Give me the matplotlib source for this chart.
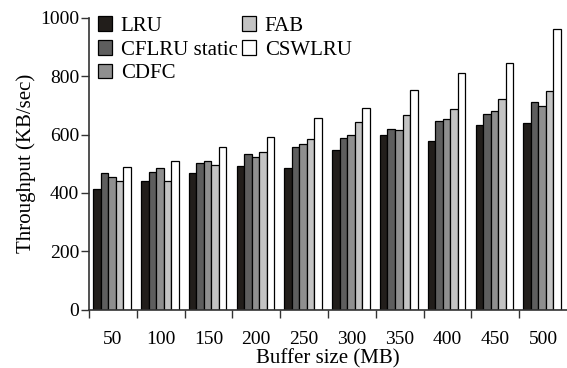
import matplotlib.pyplot as plt
import numpy as np

plt.rcParams['font.family'] = ['Liberation Serif', 'DejaVu Serif']

buffer_sizes = ['50', '100', '150', '200', '250', '300', '350', '400', '450', '500']
series_names = ['LRU', 'CFLRU static', 'CDFC', 'FAB', 'CSWLRU']

lru = [414, 442, 469, 491, 487, 546, 600, 579, 634, 641]
cflru_static = [467, 472, 503, 532, 559, 588, 620, 647, 672, 713]
cdfc = [453, 486, 511, 522, 569, 600, 615, 652, 682, 698]
fab = [440, 442, 497, 540, 584, 644, 667, 689, 722, 750]
cswlru = [489, 510, 556, 593, 658, 692, 753, 812, 844, 960]

colors = ['#221e1b', '#5e5e5e', '#8f8f8f', '#c3c3c3', '#ffffff']


def main():
    fig = plt.figure(figsize=(5.67, 3.68), dpi=100)
    ax = fig.add_axes([0.157, 0.158, 0.843, 0.794])

    data = [lru, cflru_static, cdfc, fab, cswlru]
    x = np.arange(len(buffer_sizes))
    width = 0.157
    for i, (vals, name) in enumerate(zip(data, series_names)):
        ax.bar(x + (i - 2) * width - 0.02, vals, width, color=colors[i],
               edgecolor='black', linewidth=0.9, label=name)

    ax.set_xlim(-0.5, len(buffer_sizes) - 0.5)
    ax.set_ylim(0, 1000)
    ax.set_yticks(np.arange(0, 1001, 200))
    ax.set_xticks(np.arange(-0.5, len(buffer_sizes) - 0.5, 1))
    ax.set_xticklabels([])
    ax.set_xticks(x, minor=True)
    ax.set_xticklabels(buffer_sizes, minor=True)
    ax.tick_params(axis='x', which='minor', length=0, pad=15, labelsize=14)
    ax.tick_params(axis='x', which='major', length=6, width=1, color='#333333')
    ax.tick_params(axis='y', length=6, width=1, color='#333333', labelsize=14, pad=1)

    for s in ['top', 'right']:
        ax.spines[s].set_visible(False)
    for s in ['left', 'bottom']:
        ax.spines[s].set_color('#333333')
        ax.spines[s].set_linewidth(1.2)

    ax.set_xlabel('Buffer size (MB)', fontsize=15, labelpad=1)
    ax.set_ylabel('Throughput (KB/sec)', fontsize=15, labelpad=3)

    ax.legend(ncol=2, frameon=False, fontsize=15, loc='upper left',
              bbox_to_anchor=(-0.012, 1.055), handlelength=0.7, handleheight=0.7,
              handletextpad=0.4, columnspacing=0.2, labelspacing=0.2,
              borderaxespad=0.3)

    plt.savefig('out.png', dpi=100)


if __name__ == "__main__":
    main()
